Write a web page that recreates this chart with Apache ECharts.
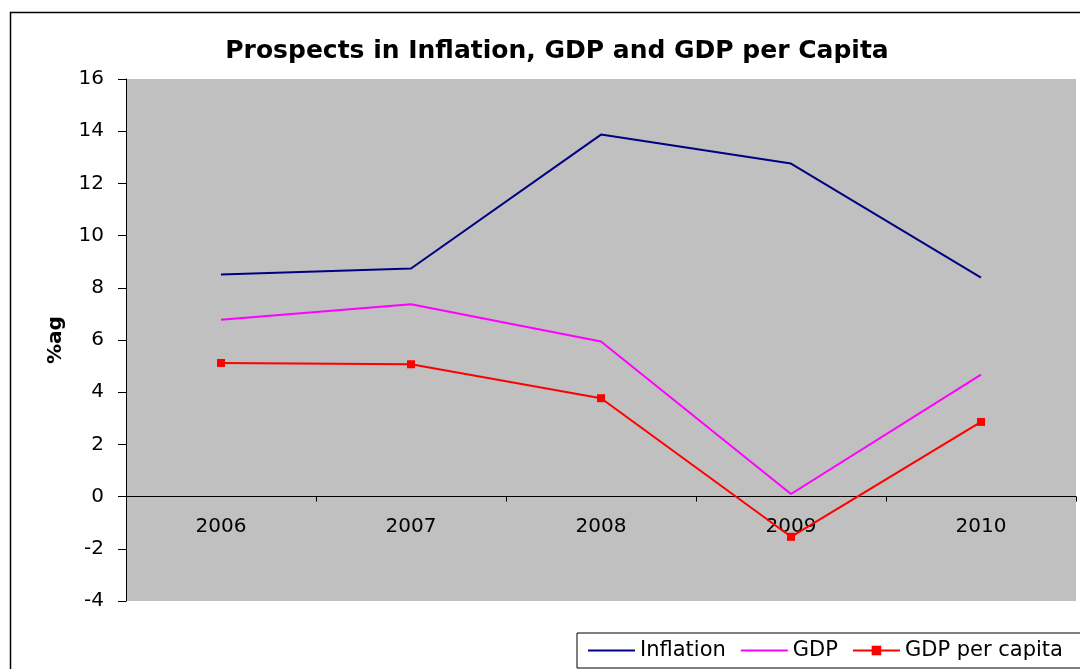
<!DOCTYPE html>
<html>
<head>
<meta charset="utf-8">
<script src="https://cdn.jsdelivr.net/npm/echarts@6/dist/echarts.min.js"></script>
<style>
html,body{margin:0;padding:0;background:#fff;}
#chart{width:1080px;height:669px;}
</style>
</head>
<body>
<div id="chart"></div>
<script>
const years = ['2006', '2007', '2008', '2009', '2010'];
const inflation = [8.51, 8.74, 13.87, 12.76, 8.39];
const gdp = [6.78, 7.37, 5.94, 0.10, 4.67];
const gdpPerCapita = [5.12, 5.07, 3.77, -1.54, 2.86];
const titleText = 'Prospects in Inflation, GDP and GDP per Capita';
const yAxisName = '%ag';

const font = 'DejaVu Sans';
const chart = echarts.init(document.getElementById('chart'));
chart.setOption({
  animation: false,
  backgroundColor: '#ffffff',
  title: {
    text: titleText,
    left: 552, top: 34, textAlign: 'center',
    textStyle: { fontFamily: font, fontWeight: 'bold', fontSize: 25, color: '#000' }
  },
  graphic: [{
    type: 'rect', silent: true, z: -1,
    shape: { x: 10.5, y: 12.5, width: 1200, height: 800 },
    style: { fill: 'none', stroke: '#000', lineWidth: 1.5 }
  }],
  legend: {
    left: 577, top: 633, width: 700, orient: 'horizontal',
    padding: [7, 30, 7, 10],
    borderColor: '#000', borderWidth: 1,
    backgroundColor: '#fff',
    itemWidth: 47, itemHeight: 12, itemGap: 14,
    textStyle: { fontFamily: font, fontSize: 21, color: '#000' },
    data: [
      { name: 'Inflation', itemStyle: { opacity: 0 } },
      { name: 'GDP', itemStyle: { opacity: 0 } },
      { name: 'GDP per capita' }
    ]
  },
  grid: {
    left: 126, right: 4, top: 79, bottom: 68,
    show: true, backgroundColor: '#c0c0c0', borderWidth: 0
  },
  xAxis: {
    type: 'category', data: years, boundaryGap: true,
    axisLine: { onZero: true, lineStyle: { color: '#000', width: 1 } },
    axisTick: { show: true, length: 5, lineStyle: { color: '#000' } },
    axisLabel: { margin: -84, fontFamily: font, fontSize: 20, color: '#000' },
    splitLine: { show: false }
  },
  yAxis: {
    type: 'value', min: -4, max: 16, interval: 2,
    name: yAxisName, nameLocation: 'middle', nameGap: 60, nameRotate: 90,
    nameTextStyle: { fontFamily: font, fontWeight: 'bold', fontSize: 20, color: '#000' },
    axisLine: { show: true, lineStyle: { color: '#000', width: 1 } },
    axisTick: { show: true, length: 8, lineStyle: { color: '#000' } },
    axisLabel: { margin: 22, fontFamily: font, fontSize: 20, color: '#000' },
    splitLine: { show: false }
  },
  series: [
    { name: 'Inflation', type: 'line', data: inflation, symbol: 'none',
      lineStyle: { color: '#000080', width: 2 }, itemStyle: { color: '#000080' } },
    { name: 'GDP', type: 'line', data: gdp, symbol: 'none',
      lineStyle: { color: '#ff00ff', width: 2 }, itemStyle: { color: '#ff00ff' } },
    { name: 'GDP per capita', type: 'line', data: gdpPerCapita, symbol: 'rect', symbolSize: 8,
      lineStyle: { color: '#ff0000', width: 2 }, itemStyle: { color: '#ff0000' } }
  ]
});
</script>
</body>
</html>
